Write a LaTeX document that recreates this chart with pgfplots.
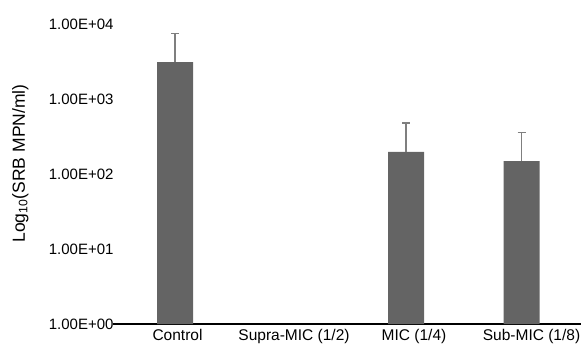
\documentclass[border=0pt]{standalone}
\usepackage{fontspec}
\setmainfont{Liberation Sans}
\usepackage{pgfplots}
\pgfplotsset{compat=1.18}
\definecolor{barc}{HTML}{646464}
\definecolor{errc}{HTML}{7F7F7F}
\begin{document}
\begin{tikzpicture}
\path[use as bounding box] (0,0) rectangle (584bp,350bp);
\begin{axis}[
  at={(113bp,26bp)}, anchor=south west,
  scale only axis,
  width=468bp, height=300bp,
  ymode=log,
  ymin=1, ymax=10000,
  xmin=-0.537, xmax=3.515,
  axis x line*=bottom,
  axis y line*=left,
  y axis line style={draw=none},
  x axis line style={line width=1.2bp, black},
  xtick={0,1,2,3},
  xticklabels={\hspace*{5bp}Control,\hspace*{7bp}Supra-MIC (1/2),\hspace*{16bp}MIC (1/4),\hspace*{20bp}Sub-MIC (1/8)},
  ytick={1,10,100,1000,10000},
  yticklabels={1.00E+00,1.00E+01,1.00E+02,1.00E+03,1.00E+04},
  major tick length=0pt,
  minor tick num=0,
  log basis y=10,
  yticklabel style={font=\fontsize{15bp}{17bp}\selectfont, xshift=4bp},
  xticklabel style={font=\fontsize{15.5bp}{18bp}\selectfont, yshift=-2bp},
  ylabel={Log\textsubscript{10}(SRB MPN/ml)},
  ylabel style={font=\fontsize{17.5bp}{20bp}\selectfont, at={(axis description cs:-0.198,0.535)}, anchor=center},
  log origin=infty,
  clip=false,
]
\addplot[ybar, bar width=36bp, fill=barc, draw=none,
  error bars/.cd, y dir=plus, y explicit,
  error bar style={errc, line width=1.3bp},
  error mark options={errc, line width=1.3bp, mark size=4bp, rotate=90}]
  coordinates {
  (0,3100) +- (0,4300)
  (2,198) +- (0,282)
  (3,148) +- (0,212)
};
\end{axis}
\end{tikzpicture}
\end{document}
